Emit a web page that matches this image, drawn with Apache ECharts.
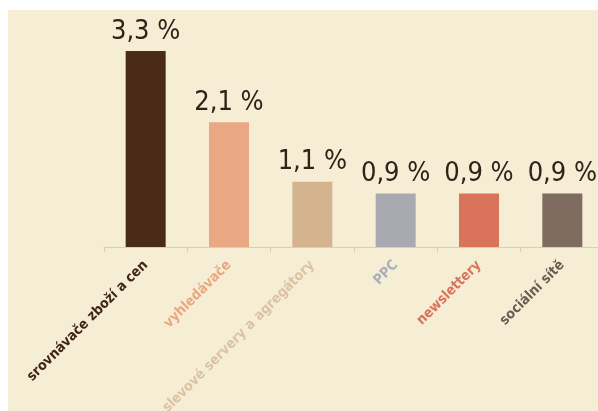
<!DOCTYPE html>
<html>
<head>
<meta charset="utf-8">
<script src="https://cdn.jsdelivr.net/npm/echarts@6/dist/echarts.min.js"></script>
<style>
html,body{margin:0;padding:0;background:#ffffff;}
#wrap{position:relative;width:598px;height:411px;background:#ffffff;overflow:hidden;}
#chart{position:absolute;left:8px;top:10px;width:590px;height:401px;}
</style>
</head>
<body>
<div id="wrap"><div id="chart"></div></div>
<script>
const categories = ["srovnávače zboží a cen", "vyhledávače", "slevové servery a agregátory", "PPC", "newslettery", "sociální sítě"];
const values = [3.3, 2.1, 1.1, 0.9, 0.9, 0.9];
const valueLabels = ["3,3 %", "2,1 %", "1,1 %", "0,9 %", "0,9 %", "0,9 %"];
const barColors = ["#4b2b18", "#e9a783", "#d4b48e", "#a9aab1", "#d9735a", "#7f6b5f"];
const labelColors = ["#3f2616", "#e9a783", "#dcc2a4", "#a9afba", "#d9735a", "#6a5d53"];

const chart = echarts.init(document.getElementById('chart'), null, {renderer: 'canvas'});
const font = '"DejaVu Sans Condensed", "Liberation Sans Narrow", sans-serif';
chart.setOption({
  backgroundColor: '#f6edd5',
  animation: false,
  grid: {left: 96, top: 41, width: 500, bottom: 164, containLabel: false, outerBoundsMode: 'none'},
  xAxis: {
    type: 'category',
    data: categories,
    axisLine: {show: true, lineStyle: {color: '#d8cfbb', width: 1}},
    axisTick: {show: true, length: 5, lineStyle: {color: '#d8cfbb'}},
    axisLabel: {
      rotate: 45,
      margin: 16,
      fontFamily: font,
      fontWeight: 'bold',
      fontSize: 14,
      color: function (v, i) { return labelColors[i]; }
    }
  },
  yAxis: {type: 'value', min: 0, max: 3.3, show: false, splitLine: {show: false}},
  series: [{
    type: 'bar',
    barWidth: 40,
    data: values.map((v, i) => ({value: v, itemStyle: {color: barColors[i]}})),
    label: {
      show: true,
      position: 'top',
      distance: 6,
      fontFamily: font,
      fontSize: 27,
      color: '#2f2219',
      formatter: p => valueLabels[p.dataIndex]
    }
  }]
});
</script>
</body>
</html>
